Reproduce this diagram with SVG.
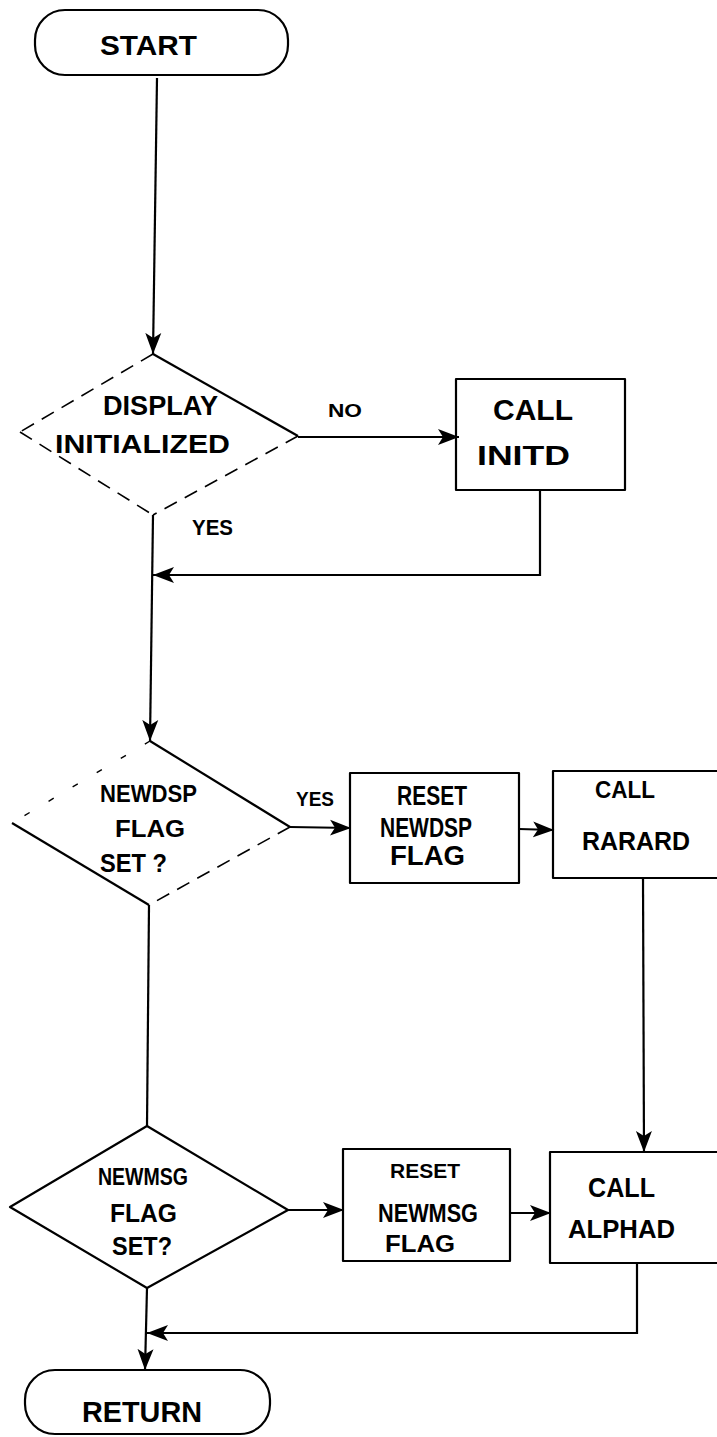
<svg xmlns="http://www.w3.org/2000/svg" width="717" height="1437" viewBox="0 0 717 1437">
<style>
  .shape{fill:none;stroke:#000;stroke-width:2.2;stroke-linejoin:round}
  .faint{fill:none;stroke:#000;stroke-width:1.6;stroke-dasharray:14 9}
  .sparse{fill:none;stroke:#000;stroke-width:1.4;stroke-dasharray:6 22}
  .conn{fill:none;stroke:#000;stroke-width:2.2}
  text{font-family:"Liberation Sans",Arial,sans-serif;fill:#000;text-anchor:start;font-weight:bold}
</style>
<defs>
  <marker id="arr" markerUnits="userSpaceOnUse" markerWidth="24" markerHeight="18" refX="21" refY="9" orient="auto">
    <path d="M0,1 L21,9 L0,17 L5,9 Z" fill="#000"/>
  </marker>
</defs>
<rect width="717" height="1437" fill="#fff"/>

<g id="start">
  <rect class="shape" x="35" y="10" width="253" height="65" rx="30" ry="30"/>
  <text x="100" y="55" font-size="28" textLength="97" lengthAdjust="spacingAndGlyphs">START</text>
</g>

<g id="display-initialized">
  <line class="faint" x1="153" y1="354" x2="20" y2="432"/>
  <line class="shape" x1="153" y1="354" x2="298" y2="436"/>
  <line class="faint" x1="20" y1="432" x2="153" y2="515"/>
  <line class="faint" x1="298" y1="436" x2="153" y2="515"/>
  <text x="103" y="415" font-size="27" textLength="115" lengthAdjust="spacingAndGlyphs">DISPLAY</text>
  <text x="55" y="453" font-size="25" textLength="175" lengthAdjust="spacingAndGlyphs">INITIALIZED</text>
</g>

<g id="call-initd">
  <rect class="shape" x="456" y="379" width="169" height="111"/>
  <text x="493" y="420" font-size="29" textLength="80" lengthAdjust="spacingAndGlyphs">CALL</text>
  <text x="477" y="465" font-size="27" textLength="93" lengthAdjust="spacingAndGlyphs">INITD</text>
</g>

<g id="newdsp-flag-set">
  <line class="sparse" x1="150" y1="741" x2="12" y2="823"/>
  <line class="shape" x1="150" y1="741" x2="290" y2="827"/>
  <line class="shape" x1="12" y1="823" x2="149" y2="905"/>
  <line class="faint" x1="290" y1="827" x2="149" y2="905"/>
  <text x="100" y="802" font-size="24" textLength="97" lengthAdjust="spacingAndGlyphs">NEWDSP</text>
  <text x="115" y="837" font-size="24" textLength="70" lengthAdjust="spacingAndGlyphs">FLAG</text>
  <text x="100" y="872" font-size="25" textLength="67" lengthAdjust="spacingAndGlyphs">SET ?</text>
</g>

<g id="reset-newdsp-flag">
  <rect class="shape" x="350" y="773" width="169" height="110"/>
  <text x="397" y="805" font-size="27" textLength="70" lengthAdjust="spacingAndGlyphs">RESET</text>
  <text x="380" y="837" font-size="28" textLength="92" lengthAdjust="spacingAndGlyphs">NEWDSP</text>
  <text x="390" y="865" font-size="28" textLength="75" lengthAdjust="spacingAndGlyphs">FLAG</text>
</g>

<g id="call-rarard">
  <rect class="shape" x="553" y="771" width="170" height="107"/>
  <text x="595" y="798" font-size="23" textLength="60" lengthAdjust="spacingAndGlyphs">CALL</text>
  <text x="582" y="850" font-size="25" textLength="108" lengthAdjust="spacingAndGlyphs">RARARD</text>
</g>

<g id="newmsg-flag-set">
  <polygon class="shape" points="147,1126 288,1210 147,1288 10,1207"/>
  <text x="98" y="1185" font-size="24" textLength="90" lengthAdjust="spacingAndGlyphs">NEWMSG</text>
  <text x="110" y="1222" font-size="25" textLength="67" lengthAdjust="spacingAndGlyphs">FLAG</text>
  <text x="112" y="1255" font-size="25" textLength="60" lengthAdjust="spacingAndGlyphs">SET?</text>
</g>

<g id="reset-newmsg-flag">
  <rect class="shape" x="343" y="1149" width="167" height="112"/>
  <text x="390" y="1178" font-size="20" textLength="70" lengthAdjust="spacingAndGlyphs">RESET</text>
  <text x="378" y="1222" font-size="25" textLength="100" lengthAdjust="spacingAndGlyphs">NEWMSG</text>
  <text x="385" y="1252" font-size="24" textLength="70" lengthAdjust="spacingAndGlyphs">FLAG</text>
</g>

<g id="call-alphad">
  <rect class="shape" x="550" y="1152" width="173" height="111"/>
  <text x="588" y="1197" font-size="27" textLength="67" lengthAdjust="spacingAndGlyphs">CALL</text>
  <text x="568" y="1238" font-size="25" textLength="107" lengthAdjust="spacingAndGlyphs">ALPHAD</text>
</g>

<g id="return">
  <rect class="shape" x="25" y="1370" width="245" height="64" rx="30" ry="30"/>
  <text x="82" y="1422" font-size="30" textLength="120" lengthAdjust="spacingAndGlyphs">RETURN</text>
</g>

<g id="connectors">
  <line class="conn" x1="157" y1="78" x2="153" y2="354" marker-end="url(#arr)"/>
  <line class="conn" x1="298" y1="437" x2="459" y2="437" marker-end="url(#arr)"/>
  <polyline class="conn" points="540,490 540,575 153,575" marker-end="url(#arr)"/>
  <line class="conn" x1="153" y1="515" x2="150" y2="741" marker-end="url(#arr)"/>
  <line class="conn" x1="290" y1="827" x2="351" y2="828" marker-end="url(#arr)"/>
  <line class="conn" x1="519" y1="829" x2="554" y2="830" marker-end="url(#arr)"/>
  <line class="conn" x1="643" y1="878" x2="644" y2="1152" marker-end="url(#arr)"/>
  <line class="conn" x1="149" y1="905" x2="147" y2="1126"/>
  <line class="conn" x1="288" y1="1210" x2="344" y2="1210" marker-end="url(#arr)"/>
  <line class="conn" x1="510" y1="1213" x2="551" y2="1213" marker-end="url(#arr)"/>
  <polyline class="conn" points="637,1263 637,1333 147,1333" marker-end="url(#arr)"/>
  <line class="conn" x1="147" y1="1288" x2="145" y2="1370" marker-end="url(#arr)"/>
  <text x="192" y="535" font-size="22" textLength="41" lengthAdjust="spacingAndGlyphs">YES</text>
  <text x="328" y="417" font-size="18" textLength="34" lengthAdjust="spacingAndGlyphs">NO</text>
  <text x="296" y="806" font-size="21" textLength="38" lengthAdjust="spacingAndGlyphs">YES</text>
</g>
</svg>
